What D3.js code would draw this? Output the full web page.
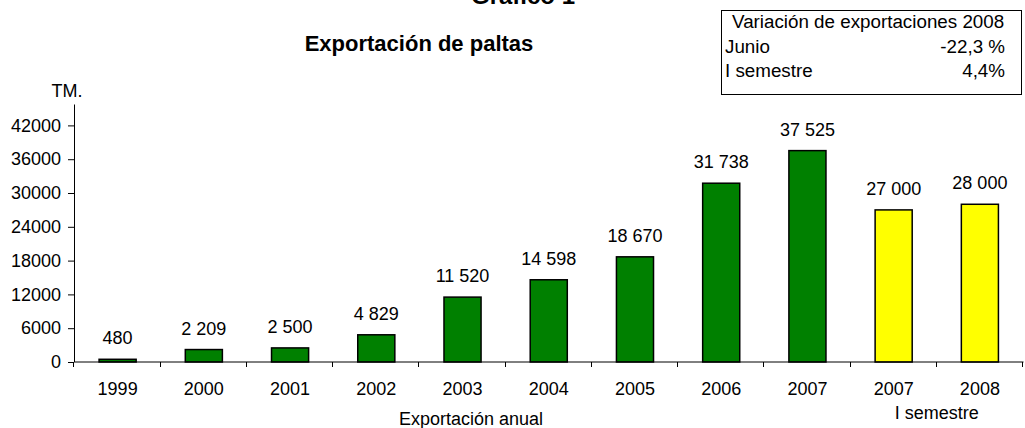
<!DOCTYPE html>
<html>
<head>
<meta charset="utf-8">
<script src="https://cdn.jsdelivr.net/npm/d3@7"></script>
<style>
  html, body { margin: 0; padding: 0; background: #fff; }
  svg { display: block; font-family: "Liberation Sans", Arial, sans-serif; }
</style>
</head>
<body>
<svg id="chart" width="1025" height="428"></svg>
<script>
// ---- data ----
const categories = ["1999", "2000", "2001", "2002", "2003", "2004", "2005", "2006", "2007", "2007", "2008"];
const values = [480, 2209, 2500, 4829, 11520, 14598, 18670, 31738, 37525, 27000, 28000];
const groups = ["anual", "anual", "anual", "anual", "anual", "anual", "anual", "anual", "anual", "semestre", "semestre"];
const yTicks = [0, 6000, 12000, 18000, 24000, 30000, 36000, 42000];
const boxRows = ["Junio", "I semestre"];
const boxValues = ["-22,3 %", "4,4%"];

const colors = { anual: "#008000", semestre: "#FFFF00" };
const FONT = 18;
const BOXFONT = 18.8;

const svg = d3.select("#chart");

const plotLeft = 74.5, plotRight = 1023, plotBottom = 362, plotTop = 104;

const x = d3.scaleBand().domain(d3.range(categories.length)).range([plotLeft, plotRight]).padding(0);
const y = d3.scaleLinear().domain([0, 45800]).range([plotBottom, plotTop]);

const fmt = d3.formatLocale({ decimal: ",", thousands: " ", grouping: [3], currency: ["", ""] }).format(",d");

// titles
svg.append("text").attr("x", 523).attr("y", 4).attr("text-anchor", "middle")
  .attr("font-size", 24).attr("font-weight", "bold").text("Gráfico 1");
svg.append("text").attr("x", 419).attr("y", 51).attr("text-anchor", "middle")
  .attr("font-size", 22).attr("font-weight", "bold").text("Exportación de paltas");

// bars
const barW = x.bandwidth() * 0.43;
svg.append("g").selectAll("rect").data(values).join("rect")
  .attr("x", (d, i) => x(i) + (x.bandwidth() - barW) / 2)
  .attr("y", d => y(d))
  .attr("width", barW)
  .attr("height", d => y(0) - y(d))
  .attr("fill", (d, i) => colors[groups[i]])
  .attr("stroke", "#000")
  .attr("stroke-width", 1.5);

// value labels
svg.append("g").selectAll("text").data(values).join("text")
  .attr("x", (d, i) => x(i) + x.bandwidth() / 2)
  .attr("y", d => y(d) - 15)
  .attr("text-anchor", "middle")
  .attr("font-size", FONT)
  .text(d => fmt(d));

// y axis
const yAxis = svg.append("g").attr("transform", `translate(${plotLeft - 0.5},0)`)
  .call(d3.axisLeft(y).tickValues(yTicks).tickSize(6).tickSizeOuter(0).tickPadding(7).tickFormat(d3.format("d")));
yAxis.selectAll("text").attr("font-size", FONT).attr("fill", "#000").attr("font-family", null);
yAxis.selectAll("line, path").attr("stroke", "#000");

// x axis (labels centred in bands)
const xAxis = svg.append("g").attr("transform", `translate(0,${plotBottom - 0.5})`)
  .call(d3.axisBottom(x).tickSize(0).tickSizeOuter(0).tickPadding(21).tickFormat(i => categories[i]));
xAxis.selectAll("text").attr("font-size", FONT).attr("fill", "#000").attr("font-family", null);
xAxis.select("path").attr("stroke", "#000");

// x boundary ticks
const bounds = d3.range(categories.length).map(i => x(i)).concat([x.range()[1]]);
svg.append("g").selectAll("line").data(bounds).join("line")
  .attr("x1", d => Math.round(d) - 0.5).attr("x2", d => Math.round(d) - 0.5)
  .attr("y1", plotBottom).attr("y2", plotBottom + 5)
  .attr("stroke", "#000");

// y unit label
svg.append("text").attr("x", 67).attr("y", 97).attr("text-anchor", "middle")
  .attr("font-size", FONT).text("TM.");

// group labels
svg.append("text").attr("x", 471).attr("y", 425).attr("text-anchor", "middle")
  .attr("font-size", FONT).text("Exportación anual");
svg.append("text").attr("x", x(10)).attr("y", 419).attr("text-anchor", "middle")
  .attr("font-size", FONT).text("I semestre");

// info box
const box = svg.append("g");
box.append("rect").attr("x", 721.5).attr("y", 10.5).attr("width", 300).attr("height", 84)
  .attr("fill", "#fff").attr("stroke", "#000").attr("stroke-width", 1);
box.append("text").attr("x", 732).attr("y", 28).attr("font-size", BOXFONT)
  .text("Variación de exportaciones 2008");
box.selectAll("text.row").data(boxRows).join("text").attr("class", "row")
  .attr("x", 725).attr("y", (d, i) => 53 + i * 24).attr("font-size", BOXFONT).text(d => d);
box.selectAll("text.val").data(boxValues).join("text").attr("class", "val")
  .attr("x", 1005).attr("y", (d, i) => 53 + i * 24).attr("text-anchor", "end")
  .attr("font-size", BOXFONT).text(d => d);
</script>
</body>
</html>
